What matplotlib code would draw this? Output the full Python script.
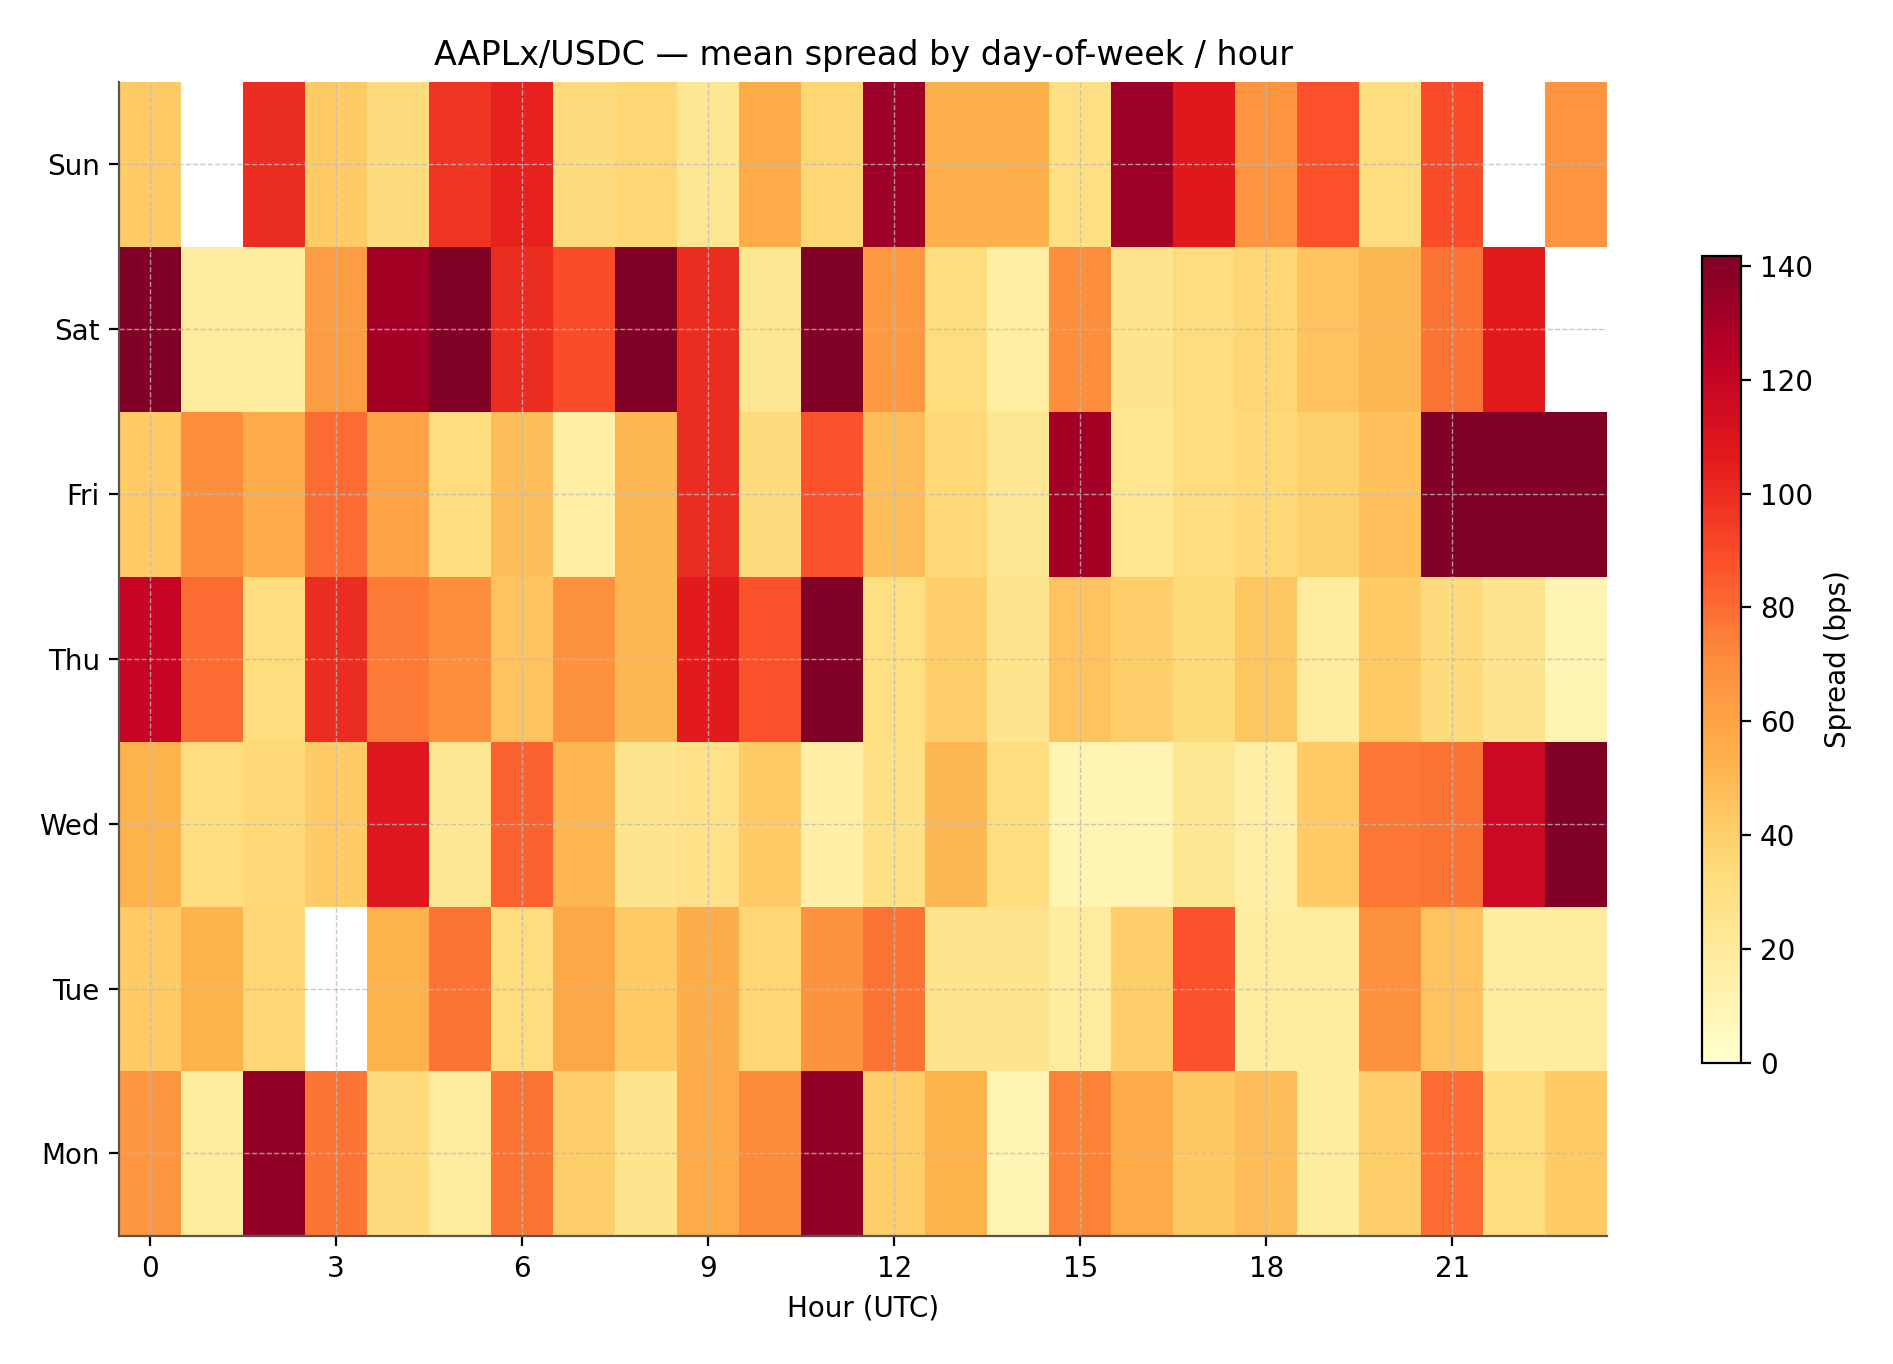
import numpy as np
import matplotlib
matplotlib.use("Agg")
import matplotlib.pyplot as plt

nan = np.nan

days = ["Mon", "Tue", "Wed", "Thu", "Fri", "Sat", "Sun"]
hours = list(range(24))

# mean spread (bps), rows Mon..Sun, columns hour 0..23
mon = [66, 18, 136, 78, 33, 19, 78, 40, 26, 57, 71, 136, 40, 53, 10, 74, 57, 43, 48, 18, 40, 80, 32, 42]
tue = [42, 53, 37, nan, 53, 78, 32, 58, 42, 55, 37, 68, 78, 26, 26, 19, 40, 87, 18, 18, 69, 45, 18, 18]
wed = [53, 32, 35, 42, 108, 23, 83, 51, 26, 28, 42, 15, 29, 50, 32, 11, 11, 23, 15, 42, 77, 78, 117, 160]
thu = [120, 80, 32, 100, 76, 70, 45, 69, 50, 106, 87, 150, 30, 40, 26, 45, 40, 34, 44, 19, 42, 33, 25, 10]
fri = [42, 70, 57, 80, 60, 32, 48, 16, 50, 100, 33, 87, 48, 35, 23, 131, 24, 32, 35, 39, 46, 160, 180, 170]
sat = [160, 18, 18, 63, 131, 150, 100, 89, 155, 100, 23, 145, 65, 32, 17, 70, 26, 31, 36, 45, 50, 78, 106, nan]
sun = [42, nan, 100, 42, 33, 97, 103, 33, 37, 23, 57, 37, 133, 54, 54, 30, 133, 107, 67, 88, 32, 89, nan, 67]

spread = np.array([mon, tue, wed, thu, fri, sat, sun], dtype=float)
vmax = 141.7

fig = plt.figure(figsize=(9.465, 6.82), dpi=200)
ax = fig.add_axes([0.063, 0.094, 0.786, 0.846])
cax = fig.add_axes([0.899, 0.221, 0.0205, 0.591])

im = ax.imshow(spread, origin="lower", aspect="auto", cmap="YlOrRd",
               vmin=0, vmax=vmax, interpolation="nearest")

ax.set_xticks(hours[::3])
ax.set_yticks(range(len(days)))
ax.set_yticklabels(days)
ax.set_xlabel("Hour (UTC)")
ax.set_title("AAPLx/USDC — mean spread by day-of-week / hour", fontsize=12)
ax.grid(True, linestyle="--", color="#bbbbbb", linewidth=0.5, alpha=0.8)
ax.spines["top"].set_visible(False)
ax.spines["right"].set_visible(False)
ax.spines["left"].set_color("#555555")
ax.spines["bottom"].set_color("#555555")

cb = fig.colorbar(im, cax=cax)
cb.set_label("Spread (bps)")
cb.set_ticks([0, 20, 40, 60, 80, 100, 120, 140])

fig.savefig("out.png", dpi=200)
